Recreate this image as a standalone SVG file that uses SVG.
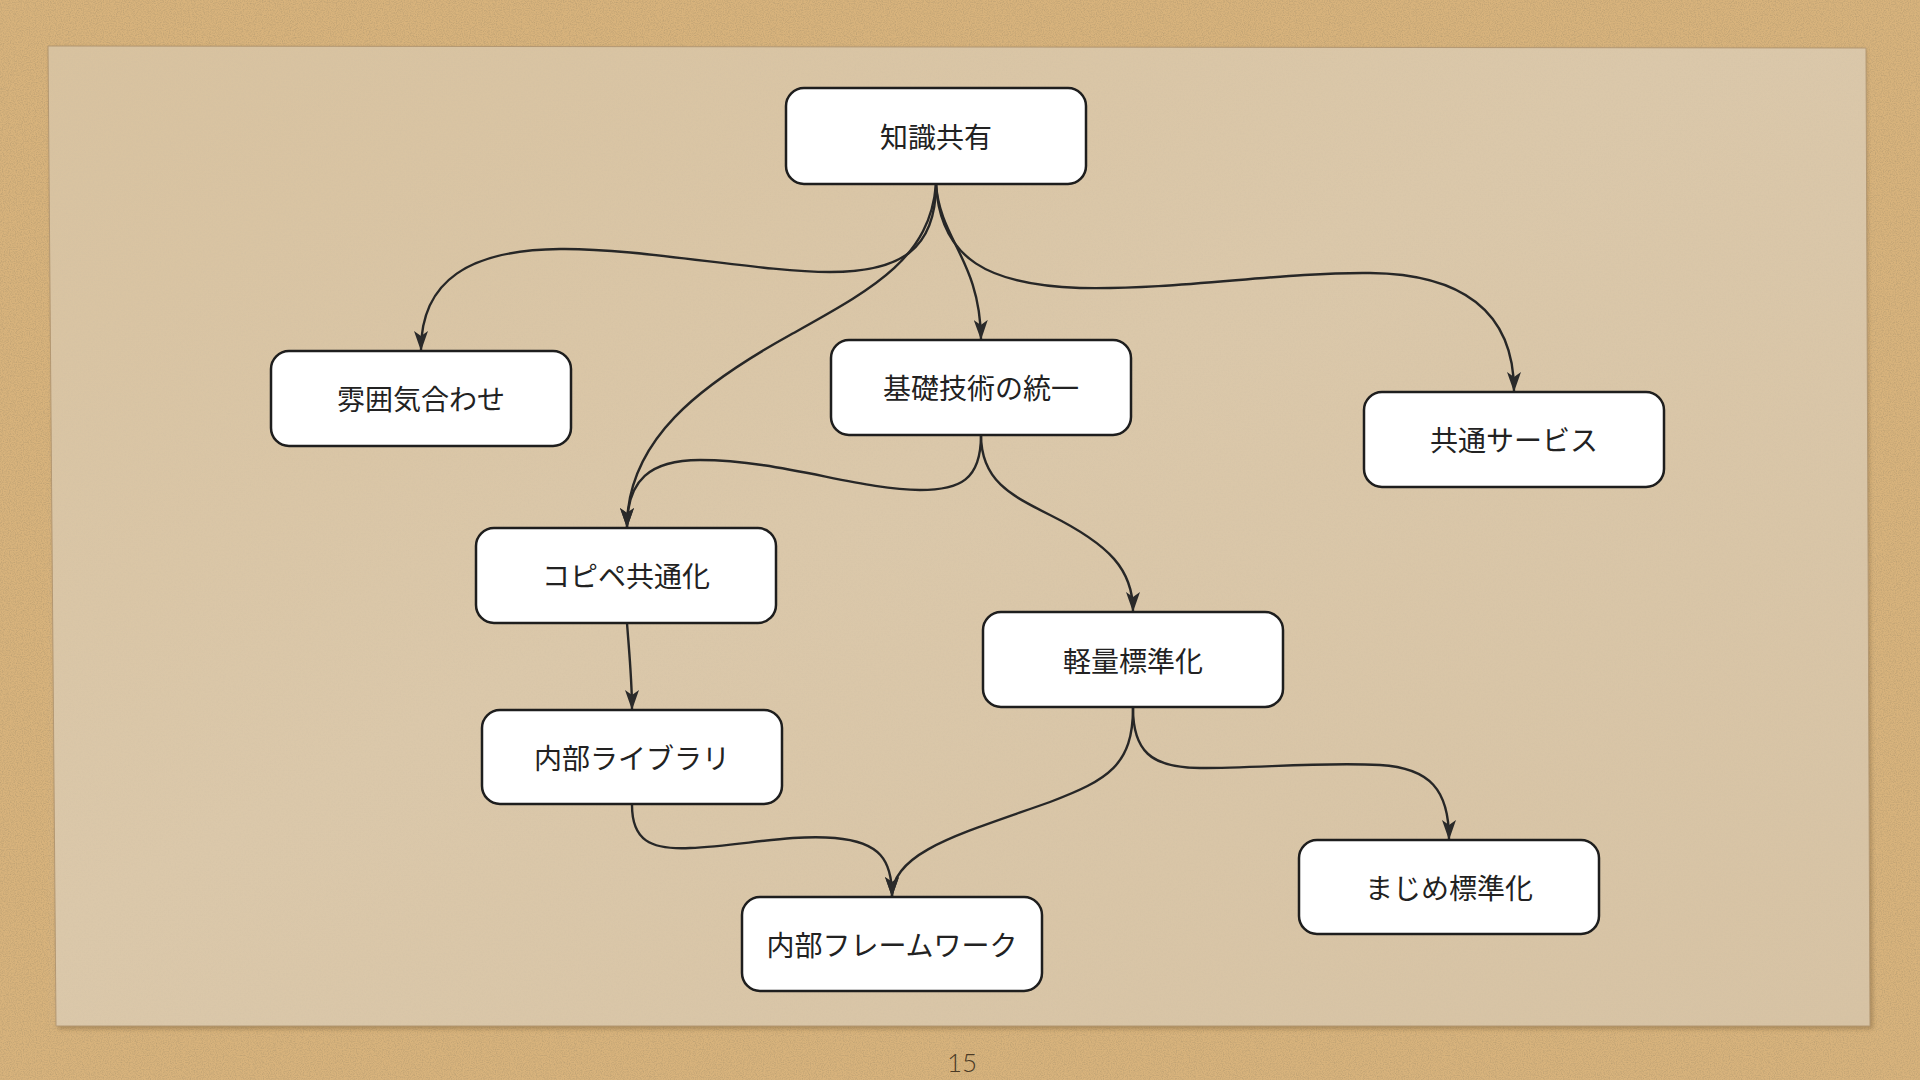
<svg xmlns="http://www.w3.org/2000/svg" width="1920" height="1080" viewBox="0 0 1920 1080">
<defs>
<style>
.node rect{fill:#ffffff;stroke:#1e1e1e;stroke-width:2.5}
.node text{font-family:"Noto Sans CJK JP","Noto Sans",sans-serif;font-size:28px;fill:#222;text-anchor:middle;dominant-baseline:central}
.edge{fill:none;stroke:#272727;stroke-width:2.4;marker-end:url(#arr)}
</style>
<marker id="arr" viewBox="0 0 20 14" refX="19" refY="7" markerWidth="20" markerHeight="14" markerUnits="userSpaceOnUse" orient="auto">
<path d="M0,0 L20,7 L0,14 L5,7 z" fill="#2a2a2a"/>
</marker>
<filter id="grain" x="0" y="0" width="100%" height="100%">
<feTurbulence type="fractalNoise" baseFrequency="0.85" numOctaves="3" seed="7"/>
<feColorMatrix type="matrix" values="0 0 0 0 0.45  0 0 0 0 0.32  0 0 0 0 0.16  0 0 0 1.3 -0.5"/>
</filter>
<filter id="grain2" x="0" y="0" width="100%" height="100%">
<feTurbulence type="fractalNoise" baseFrequency="0.6" numOctaves="2" seed="3"/>
<feColorMatrix type="matrix" values="0 0 0 0 0.55  0 0 0 0 0.47  0 0 0 0 0.36  0 0 0 0.6 -0.25"/>
</filter>
<filter id="shadow" x="-5%" y="-5%" width="110%" height="110%">
<feGaussianBlur stdDeviation="2"/>
</filter>
<linearGradient id="paperG" x1="0" y1="0" x2="1" y2="1">
<stop offset="0" stop-color="#d8c29f"/>
<stop offset="0.45" stop-color="#dbc8aa"/>
<stop offset="1" stop-color="#d7c3a4"/>
</linearGradient>
</defs>
<rect x="0" y="0" width="1920" height="1080" fill="#d8b37c"/>
<rect x="0" y="0" width="1920" height="1080" filter="url(#grain)"/>
<path d="M50,48 L1866,50 L1873,1029 L58,1029 Z" fill="#7a5e38" opacity="0.45" filter="url(#shadow)"/>
<path d="M48,46 L1866,48 L1870,1026 L56,1026 Z" fill="url(#paperG)" stroke="#b39771" stroke-width="1"/>
<path d="M48,46 L1866,48 L1870,1026 L56,1026 Z" filter="url(#grain2)" opacity="0.5"/>
<g id="connectors">
<path class="edge" d="M936,184 C936,250 900,272 830,272 C760,272 640,248 560,249 C470,250 421,280 421,350"/>
<path class="edge" d="M936,184 C930,260 870,290 790,335 C700,385 627,440 627,527"/>
<path class="edge" d="M936,184 C940,240 980,260 981,339"/>
<path class="edge" d="M936,184 C940,260 990,285 1080,288 C1180,290 1280,272 1370,273 C1460,274 1514,310 1514,391"/>
<path class="edge" d="M981,435 C981,480 960,490 920,490 C860,490 780,460 700,460 C650,460 627,480 627,527"/>
<path class="edge" d="M981,435 C981,480 1010,495 1050,515 C1110,545 1133,570 1133,611"/>
<path class="edge" d="M627,623 C629,650 632,680 632,709"/>
<path class="edge" d="M1133,708 C1133,765 1108,780 1050,802 C960,834 892,852 892,896"/>
<path class="edge" d="M1133,708 C1133,750 1150,768 1200,768 C1260,768 1320,762 1380,765 C1430,768 1449,790 1449,839"/>
<path class="edge" d="M632,805 C632,840 650,850 690,848 C740,846 790,834 835,838 C880,842 892,860 892,896"/>
</g>
<g id="n1" class="node"><rect x="786" y="88" width="300" height="96" rx="18"/><text x="936" y="136">知識共有</text></g>
<g id="n2" class="node"><rect x="271" y="351" width="300" height="95" rx="18"/><text x="421" y="398">雰囲気合わせ</text></g>
<g id="n3" class="node"><rect x="831" y="340" width="300" height="95" rx="18"/><text x="981" y="387">基礎技術の統一</text></g>
<g id="n4" class="node"><rect x="1364" y="392" width="300" height="95" rx="18"/><text x="1514" y="439">共通サービス</text></g>
<g id="n5" class="node"><rect x="476" y="528" width="300" height="95" rx="18"/><text x="626" y="575">コピペ共通化</text></g>
<g id="n6" class="node"><rect x="983" y="612" width="300" height="95" rx="18"/><text x="1133" y="660">軽量標準化</text></g>
<g id="n7" class="node"><rect x="482" y="710" width="300" height="94" rx="18"/><text x="632" y="757">内部ライブラリ</text></g>
<g id="n8" class="node"><rect x="1299" y="840" width="300" height="94" rx="18"/><text x="1449" y="887">まじめ標準化</text></g>
<g id="n9" class="node"><rect x="742" y="897" width="300" height="94" rx="18"/><text x="892" y="944">内部フレームワーク</text></g>
<text x="962" y="1072" font-family="Lato, 'Liberation Sans', sans-serif" font-size="26" font-weight="300" fill="#4a3a26" text-anchor="middle">15</text>
</svg>
